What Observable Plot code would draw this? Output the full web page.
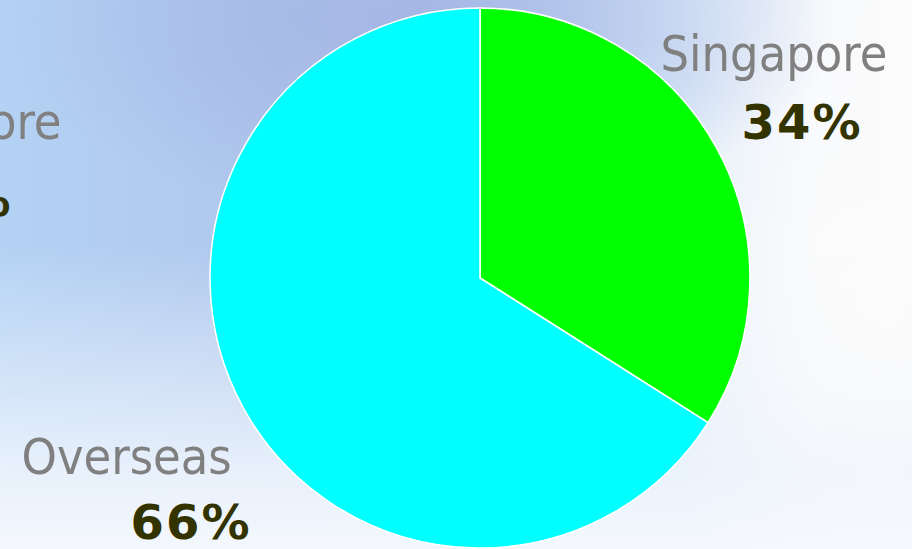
<!DOCTYPE html>
<html>
<head>
<meta charset="utf-8">
<script src="https://cdn.jsdelivr.net/npm/d3@7"></script>
<script src="https://cdn.jsdelivr.net/npm/@observablehq/plot@0.6"></script>
<style>
  html, body { margin: 0; padding: 0; }
  body {
    width: 912px; height: 549px; overflow: hidden;
    background:
      radial-gradient(ellipse 420px 200px at 420px 20px, rgba(162,180,228,0.95), rgba(162,180,228,0) 100%),
      radial-gradient(ellipse 260px 330px at 880px 300px, rgba(251,251,251,1), rgba(251,251,251,0) 100%),
      linear-gradient(to bottom, rgba(255,255,255,0) 0%, rgba(255,255,255,0) 45%, rgba(234,242,252,0.95) 85%, rgba(244,248,253,1) 100%),
      linear-gradient(to right, #b4d2f4 0%, #afc6ec 30%, #d8e8f8 70%, #f8fafc 90%, #fbfbfb 100%);
  }
  #chart svg { display: block; }
  .pct text { letter-spacing: 2px; }
</style>
</head>
<body>
<div id="chart"></div>
<script>
// Data
const categories = ["Singapore", "Overseas"];
const shares = [34, 66];
const colors = ["#00ff00", "#00ffff"];
const valueLabels = ["34%", "66%"];
// Cropped labels of a neighbouring chart, visible at the left edge
const ghostNames = ["Singapore"];
const ghostValues = ["34%"];

const W = 912, H = 549;
const cx = 480, cy = 278, R = 270;

const slices = categories.map((c, i) => ({name: c, value: shares[i], color: colors[i]}));
const arcs = d3.pie().sort(null).value(d => d.value)(slices);

const nameLabels = [
  {text: categories[0], x: 660, y: 70},
  {text: categories[1], x: 21, y: 473}
];
const pctLabels = [
  {text: valueLabels[0], x: 862, y: 138},
  {text: valueLabels[1], x: 251, y: 538}
];
const ghostName = [{text: ghostNames[0], x: 61, y: 138}];
const ghostPct = [{text: ghostValues[0], x: 12, y: 215}];

const pieMark = (index, scales, values, dimensions, context) => {
  const g = d3.create("svg:g");
  const arcGen = d3.arc().innerRadius(0).outerRadius(R);
  g.attr("transform", `translate(${scales.x(cx)},${scales.y(cy)})`);
  g.selectAll("path").data(arcs).join("path")
    .attr("d", arcGen)
    .attr("fill", d => d.data.color)
    .attr("stroke", "#ffffff")
    .attr("stroke-width", 1.6)
    .attr("stroke-linejoin", "round");
  return g.node();
};

const nameFont = "'DejaVu Sans Condensed', 'DejaVu Sans', sans-serif";
const pctFont = "'DejaVu Sans', Verdana, sans-serif";

const chart = Plot.plot({
  width: W, height: H,
  margin: 0,
  x: {domain: [0, W], range: [0, W], axis: null},
  y: {domain: [0, H], range: [0, H], axis: null},
  style: {background: "transparent", overflow: "visible"},
  marks: [
    pieMark,
    Plot.text(nameLabels, {x: "x", y: "y", text: "text", textAnchor: "start", lineAnchor: "bottom",
      fill: "#808080", fontSize: 50, fontFamily: nameFont, fontStretch: "condensed"}),
    Plot.text(pctLabels, {x: "x", y: "y", text: "text", textAnchor: "end", lineAnchor: "bottom",
      fill: "#333300", fontSize: 48, fontWeight: "bold", fontFamily: pctFont, className: "pct"}),
    Plot.text(ghostName, {x: "x", y: "y", text: "text", textAnchor: "end", lineAnchor: "bottom",
      fill: "#808080", fontSize: 50, fontFamily: nameFont, fontStretch: "condensed"}),
    Plot.text(ghostPct, {x: "x", y: "y", text: "text", textAnchor: "end", lineAnchor: "bottom",
      fill: "#333300", fontSize: 48, fontWeight: "bold", fontFamily: pctFont, className: "pct"})
  ]
});
document.getElementById("chart").appendChild(chart);
</script>
</body>
</html>
